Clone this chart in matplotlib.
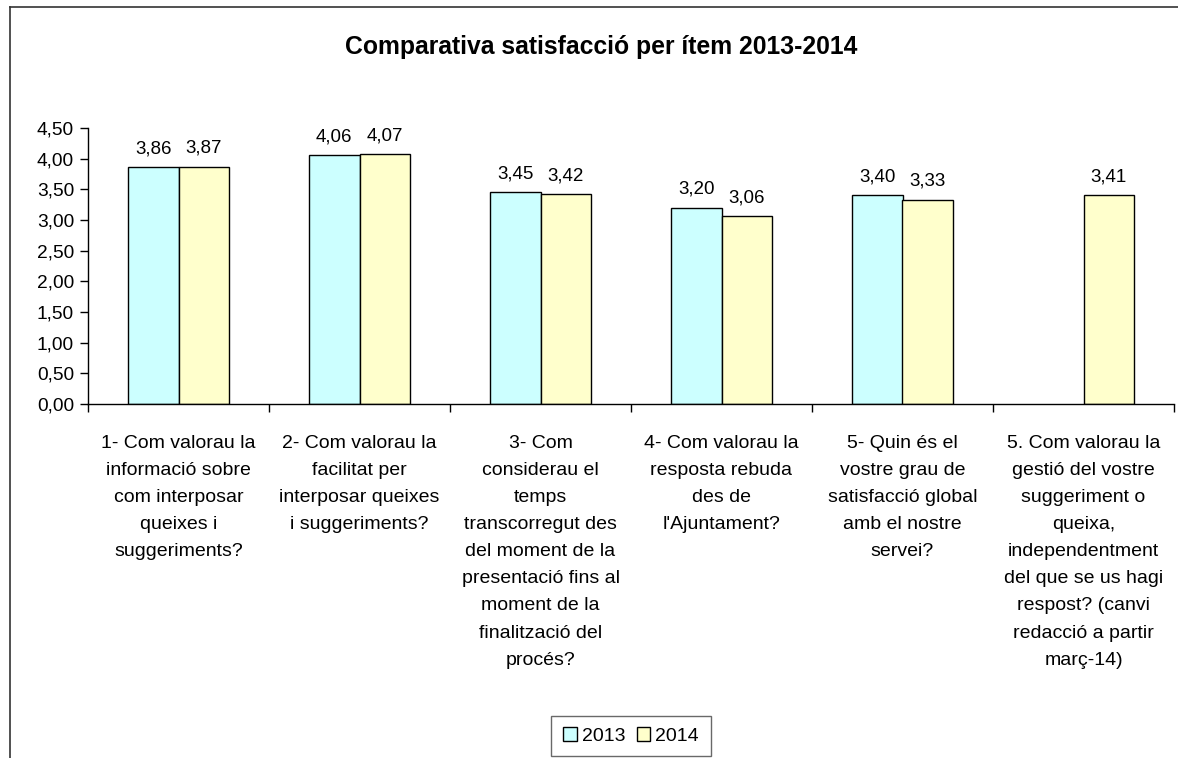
import matplotlib
matplotlib.use("Agg")
import matplotlib.pyplot as plt
import numpy as np
from matplotlib.lines import Line2D
from matplotlib.patches import Patch

plt.rcParams['font.family'] = ['Liberation Sans', 'DejaVu Sans']

title = "Comparativa satisfacció per ítem 2013-2014"
categories = [
    "1- Com valorau la\ninformació sobre\ncom interposar\nqueixes i\nsuggeriments?",
    "2- Com valorau la\nfacilitat per\ninterposar queixes\ni suggeriments?",
    "3- Com\nconsiderau el\ntemps\ntranscorregut des\ndel moment de la\npresentació fins al\nmoment de la\nfinalització del\nprocés?",
    "4- Com valorau la\nresposta rebuda\ndes de\nl'Ajuntament?",
    "5- Quin és el\nvostre grau de\nsatisfacció global\namb el nostre\nservei?",
    "5. Com valorau la\ngestió del vostre\nsuggeriment o\nqueixa,\nindependentment\ndel que se us hagi\nrespost? (canvi\nredacció a partir\nmarç-14)",
]
series_names = ["2013", "2014"]
values_2013 = [3.86, 4.06, 3.45, 3.20, 3.40, np.nan]
values_2014 = [3.87, 4.07, 3.42, 3.06, 3.33, 3.41]
y_ticks = [0.0, 0.5, 1.0, 1.5, 2.0, 2.5, 3.0, 3.5, 4.0, 4.5]

colors = ["#CCFFFF", "#FFFFCC"]

W, H = 1178, 758
fig = plt.figure(figsize=(W / 100, H / 100), dpi=100)
ax = fig.add_axes([88 / W, 1 - 404 / H, (1174 - 88) / W, (404 - 128) / H])

x = np.arange(len(categories))
bw = 0.28
fmt = lambda v: f"{v:.2f}".replace(".", ",")
for i, (vals, name) in enumerate(zip([values_2013, values_2014], series_names)):
    pos = x + (i - 0.5) * bw
    ax.bar(pos, vals, width=bw, color=colors[i], edgecolor="black", linewidth=1.0, label=name)
    for p, v in zip(pos, vals):
        if not np.isnan(v):
            ax.text(p, v + 0.16, fmt(v), ha="center", va="bottom", fontsize=13.5)

ax.set_xlim(-0.5, len(categories) - 0.5)
ax.set_ylim(0, 4.5)
ax.set_yticks(y_ticks)
ax.set_yticklabels([fmt(t) for t in y_ticks], fontsize=13.8)
ax.set_xticks(x)
ax.set_xticklabels(categories, fontsize=14, linespacing=1.78, va="top")
ax.tick_params(axis="x", which="major", length=0, pad=22)
ax.set_xticks(np.arange(-0.5, len(categories)), minor=True)
ax.tick_params(axis="x", which="minor", length=6, direction="out", width=1)
ax.tick_params(axis="y", length=6, direction="out", width=1, pad=4)
for s in ["top", "right"]:
    ax.spines[s].set_visible(False)
for s in ["left", "bottom"]:
    ax.spines[s].set_color("black")
    ax.spines[s].set_linewidth(1)

fig.text(601 / W, 1 - 47 / H, title, ha="center", va="center", fontsize=17.8, fontweight="bold")

# outer chart frame (partially visible)
fig.add_artist(Line2D([10 / W, 10 / W], [0, 1 - 7 / H], color="#333333", lw=1.2, transform=fig.transFigure))
fig.add_artist(Line2D([10 / W, 1], [1 - 7 / H, 1 - 7 / H], color="#333333", lw=1.2, transform=fig.transFigure))

handles = [Patch(facecolor=c, edgecolor="black", label=n) for c, n in zip(colors, series_names)]
leg = fig.legend(handles=handles, loc="center", bbox_to_anchor=(631 / W, 1 - 736 / H), ncol=2,
                 fontsize=14, frameon=True, fancybox=False, edgecolor="#444444",
                 handlelength=0.7, handleheight=0.7, handletextpad=0.25, columnspacing=0.6,
                 borderpad=0.6)
leg.get_frame().set_linewidth(1)

fig.savefig("out.png", dpi=100)
